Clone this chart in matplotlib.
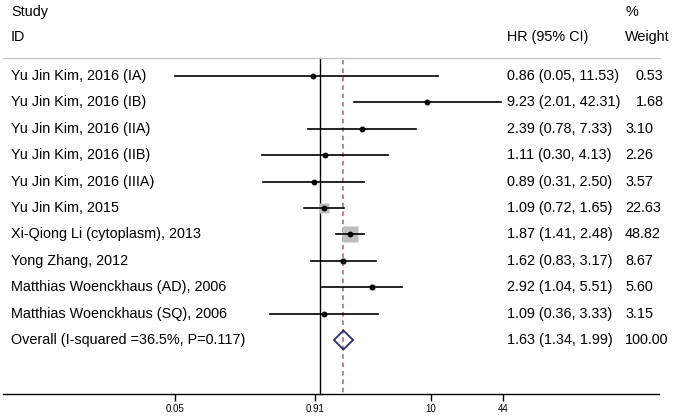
import numpy as np
import matplotlib
matplotlib.use("Agg")
import matplotlib.pyplot as plt
from matplotlib import transforms
from matplotlib.patches import Polygon

plt.rcParams['font.family'] = ['Liberation Sans', 'DejaVu Sans']

studies = [
    "Yu Jin Kim, 2016 (IA)",
    "Yu Jin Kim, 2016 (IB)",
    "Yu Jin Kim, 2016 (IIA)",
    "Yu Jin Kim, 2016 (IIB)",
    "Yu Jin Kim, 2016 (IIIA)",
    "Yu Jin Kim, 2015",
    "Xi-Qiong Li (cytoplasm), 2013",
    "Yong Zhang, 2012",
    "Matthias Woenckhaus (AD), 2006",
    "Matthias Woenckhaus (SQ), 2006",
]
hr = [0.86, 9.23, 2.39, 1.11, 0.89, 1.09, 1.87, 1.62, 2.92, 1.09]
ci_low = [0.05, 2.01, 0.78, 0.30, 0.31, 0.72, 1.41, 0.83, 1.04, 0.36]
ci_high = [11.53, 42.31, 7.33, 4.13, 2.50, 1.65, 2.48, 3.17, 5.51, 3.33]
weights = [0.53, 1.68, 3.10, 2.26, 3.57, 22.63, 48.82, 8.67, 5.60, 3.15]

overall_label = "Overall (I-squared =36.5%, P=0.117)"
overall_hr, overall_low, overall_high = 1.63, 1.34, 1.99
overall_weight = 100.00

tick_vals = [0.05, 0.91, 10, 44]
tick_labels = ["0.05", "0.91", "10", "44"]

# pixel layout: x_pix = 319.8 + 111.3*log10(x), y_pix = 76 + 26.4*row
fig = plt.figure(figsize=(6.77, 4.16), dpi=100)
ax = fig.add_axes([0, 0, 1, 1])
ax.set_xscale('log')
ax.set_xlim(10 ** (-319.8 / 111.3), 10 ** ((677 - 319.8) / 111.3))
ax.set_ylim(12.879, -2.879)

rows = np.arange(len(studies))
n = len(studies)
axis_y = 12.045
line_top = -0.67

# reference lines
ax.plot([1, 1], [line_top, axis_y], color='black', lw=1.0, zorder=2)
ax.plot([overall_hr, overall_hr], [-0.6, axis_y], color='#9b6b74', lw=1.1,
        ls=(0, (3, 2.5)), zorder=1)

# study estimates
for i in rows:
    ax.plot([ci_low[i], ci_high[i]], [i, i], color='black', lw=1.2, zorder=3)
    ax.plot(hr[i], i, marker='s', ms=1.55 * np.sqrt(weights[i]),
            color='#bdbdbd', mec='none', zorder=2)
    ax.plot(hr[i], i, marker='o', ms=3.2, color='black', zorder=4)

# overall diamond
h = 0.36
diamond = Polygon([[overall_low, n], [overall_hr, n - h], [overall_high, n],
                   [overall_hr, n + h]], closed=True, fill=False,
                  edgecolor='#2d2f62', lw=1.3, zorder=4)
ax.add_patch(diamond)

# header separator
ax.plot([10 ** ((3 - 319.8) / 111.3), 10 ** ((660 - 319.8) / 111.3)],
        [line_top, line_top], color='#c8c8c8', lw=1.0)

# x axis
for s in ['top', 'left', 'right']:
    ax.spines[s].set_visible(False)
ax.spines['bottom'].set_position(('data', axis_y))
ax.spines['bottom'].set_bounds(10 ** ((3 - 319.8) / 111.3), 10 ** ((659 - 319.8) / 111.3))
ax.spines['bottom'].set_linewidth(1.0)
ax.set_xticks(tick_vals)
ax.set_xticklabels(tick_labels)
ax.xaxis.set_minor_locator(matplotlib.ticker.NullLocator())
ax.tick_params(axis='x', direction='out', length=5, width=1.0, labelsize=7, pad=2)
ax.set_yticks([])

# text columns
tr = transforms.blended_transform_factory(ax.transAxes, ax.transData)
fs = 10.4
x_study = 11 / 677
x_hr = 507 / 677
x_w = 625 / 677
x_w_long = 636 / 677
ax.text(x_study, -2.424, "Study", transform=tr, fontsize=fs, va='center')
ax.text(x_study, -1.477, "ID", transform=tr, fontsize=fs, va='center')
ax.text(x_hr, -1.477, "HR (95% CI)", transform=tr, fontsize=fs, va='center')
ax.text(x_w, -2.424, "%", transform=tr, fontsize=fs, va='center')
ax.text(x_w, -1.477, "Weight", transform=tr, fontsize=fs, va='center')

for i in rows:
    hr_txt = f"{hr[i]:.2f} ({ci_low[i]:.2f}, {ci_high[i]:.2f})"
    ax.text(x_study, i, studies[i], transform=tr, fontsize=fs, va='center')
    ax.text(x_hr, i, hr_txt, transform=tr, fontsize=fs, va='center')
    # long estimate strings push the weight one space to the right
    wx = x_w_long if len(hr_txt) > 17 else x_w
    ax.text(wx, i, f"{weights[i]:.2f}", transform=tr, fontsize=fs, va='center')

ax.text(x_study, n, overall_label, transform=tr, fontsize=fs, va='center')
ax.text(x_hr, n, f"{overall_hr:.2f} ({overall_low:.2f}, {overall_high:.2f})",
        transform=tr, fontsize=fs, va='center')
ax.text(x_w, n, f"{overall_weight:.2f}", transform=tr, fontsize=fs, va='center')

fig.savefig("out.png", dpi=100)
